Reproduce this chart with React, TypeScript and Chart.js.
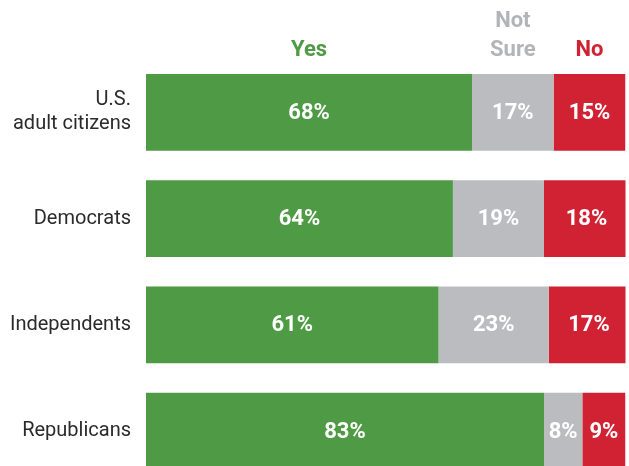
import React, { useEffect, useRef } from "react";
import { Chart, registerables } from "chart.js";

Chart.register(...registerables);

const categories: string[][] = [["U.S.", "adult citizens"], ["Democrats"], ["Independents"], ["Republicans"]];
const yesValues = [68, 64, 61, 83];
const notSureValues = [17, 19, 23, 8];
const noValues = [15, 18, 17, 9];
const seriesNames: string[][] = [["Yes"], ["Not", "Sure"], ["No"]];

const GREEN = "#4f9a44";
const GRAY = "#bbbcbf";
const RED = "#d12234";
const GRAY_TEXT = "#b3b4b7";
const FONT = "Roboto";

const W = 629;
const H = 490;

export default function App() {
  const ref = useRef<HTMLCanvasElement | null>(null);
  useEffect(() => {
    if (!ref.current) return;
    const labelPlugin = {
      id: "customLabels",
      afterDatasetsDraw(chart: any) {
        const ctx = chart.ctx as CanvasRenderingContext2D;
        ctx.save();
        // category labels
        const yScale = chart.scales.y;
        ctx.fillStyle = "#2b2b2b";
        ctx.font = `400 20px ${FONT}`;
        ctx.textAlign = "right";
        ctx.textBaseline = "middle";
        categories.forEach((lines, i) => {
          const cy = yScale.getPixelForValue(i);
          const lh = 24;
          const start = cy - ((lines.length - 1) * lh) / 2;
          lines.forEach((t, j) => ctx.fillText(t, 131, start + j * lh));
        });
        // value labels
        ctx.fillStyle = "#ffffff";
        ctx.font = `700 22px ${FONT}`;
        ctx.textAlign = "center";
        chart.data.datasets.forEach((ds: any, di: number) => {
          const meta = chart.getDatasetMeta(di);
          meta.data.forEach((bar: any, i: number) => {
            const right = Math.min(bar.x, W);
            const cx = (right + bar.base) / 2;
            ctx.fillText(ds.data[i] + "%", cx, bar.y + 1);
          });
        });
        // header labels over first row
        const colors = [GREEN, GRAY_TEXT, RED];
        ctx.font = `700 22px ${FONT}`;
        chart.data.datasets.forEach((ds: any, di: number) => {
          const bar = chart.getDatasetMeta(di).data[0] as any;
          const right = Math.min(bar.x, W);
          const cx = (right + bar.base) / 2;
          const lines = seriesNames[di];
          ctx.fillStyle = colors[di];
          lines.forEach((t, j) => {
            ctx.fillText(t, cx, 50 - (lines.length - 1 - j) * 29);
          });
        });
        ctx.restore();
      },
    };
    const chart = new Chart(ref.current, {
      type: "bar",
      data: {
        labels: categories.map((c) => c.join(" ")),
        datasets: [
          { label: "Yes", data: yesValues, backgroundColor: GREEN },
          { label: "Not Sure", data: notSureValues, backgroundColor: GRAY },
          { label: "No", data: noValues, backgroundColor: RED },
        ],
      },
      options: {
        indexAxis: "y",
        animation: false,
        responsive: false,
        devicePixelRatio: 1,
        layout: { padding: { left: 146, right: 3.5, top: 59.25, bottom: H - 484.2 } },
        datasets: { bar: { categoryPercentage: 1, barPercentage: 0.722, borderWidth: 0 } },
        scales: {
          x: { stacked: true, min: 0, max: 100, display: false },
          y: { stacked: true, display: false },
        },
        plugins: { legend: { display: false }, tooltip: { enabled: false } },
      },
      plugins: [labelPlugin],
    });
    return () => chart.destroy();
  }, []);
  return (
    <div style={{ position: "fixed", left: 0, top: 0, width: W, height: 466, overflow: "hidden", background: "#fff" }}>
      <canvas ref={ref} width={W} height={H} style={{ display: "block", width: W, height: H }} />
    </div>
  );
}
